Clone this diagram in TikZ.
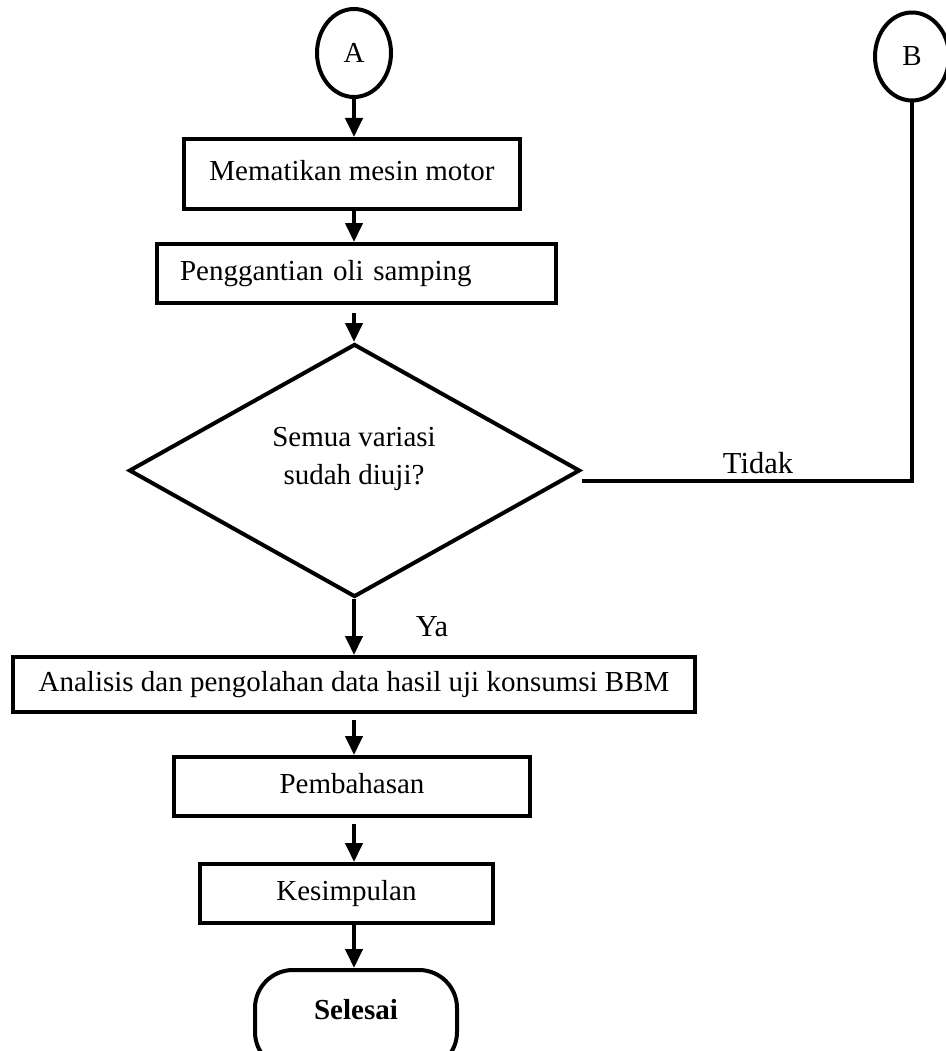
\documentclass[tikz,border=0pt]{standalone}
\usepackage{fontspec}
\setmainfont{Liberation Serif}
\usetikzlibrary{arrows.meta,shapes.geometric}
\begin{document}
\begin{tikzpicture}[x=1pt,y=-1pt,line width=4pt,
  txt/.style={font=\fontsize{29}{35}\selectfont, inner sep=0pt},
  lbl/.style={font=\fontsize{30.5}{36}\selectfont, inner sep=0pt},
  box/.style={draw, rectangle, inner sep=0pt, text height=20pt, text depth=6pt,
              font=\fontsize{29}{35}\selectfont},
  conn/.style={-{Triangle[width=17pt,length=19pt]}},
  conncirc/.style={draw, ellipse, minimum width=74pt, minimum height=88pt,
              inner sep=0pt, font=\fontsize{29}{35}\selectfont},
  decision/.style={draw, diamond, inner sep=0pt},
  terminal/.style={draw, rectangle, rounded corners=38pt, inner sep=0pt}]
\useasboundingbox (0,0) rectangle (945,1051);

% off-page connectors
\node[conncirc] (A) at (354,53) {A};
\node[conncirc] (B) at (912,56.5) {B};

% process steps
\node[box, minimum width=336pt, minimum height=70pt] (m1) at (352,174) {Mematikan mesin motor};
\node[box, minimum width=399pt, minimum height=59pt, text width=353pt, align=left,
      inner xsep=23pt] (m2) at (356.5,273.5) {Penggantian oli samping};

% decision
\node[decision, minimum width=451pt, minimum height=253pt] (D) at (354.5,470.5) {};
\node[txt, align=center, font=\fontsize{29}{38}\selectfont] (Dt) at (354,459)
      {Semua variasi\\sudah diuji?};

\node[box, minimum width=682pt, minimum height=55pt] (m3) at (354,684.5)
      {Analisis dan pengolahan data hasil uji konsumsi BBM};
\node[box, minimum width=356pt, minimum height=59pt] (m4) at (352,786.5) {Pembahasan};
\node[box, minimum width=293pt, minimum height=59pt] (m5) at (346.5,893.5) {Kesimpulan};

% terminator
\node[terminal, minimum width=202pt, minimum height=100pt] (sel) at (356,1020) {};
\node[txt, font=\fontsize{29}{35}\selectfont\bfseries] (selt) at (356,1010) {Selesai};

% flow
\draw[conn] (A.south) -- (A.south |- m1.north);
\draw[conn] (A.south |- m1.south) -- (A.south |- m2.north);
\draw[conn, shorten <=8pt] (A.south |- m2.south) -- (A.south |- D.north);
\draw[conn] (A.south |- D.south) -- (A.south |- m3.north);
\draw[conn, shorten <=6pt] (A.south |- m3.south) -- (A.south |- m4.north);
\draw[conn, shorten <=6pt] (A.south |- m4.south) -- (A.south |- m5.north);
\draw[conn] (A.south |- m5.south) -- (A.south |- sel.north);

% loop back to B
\draw ([yshift=-10pt]D.east) -| (B.south);

% branch labels
\node[lbl] (tidak) at (758,463) {Tidak};
\node[lbl] (ya) at (432,627) {Ya};
\end{tikzpicture}
\end{document}
